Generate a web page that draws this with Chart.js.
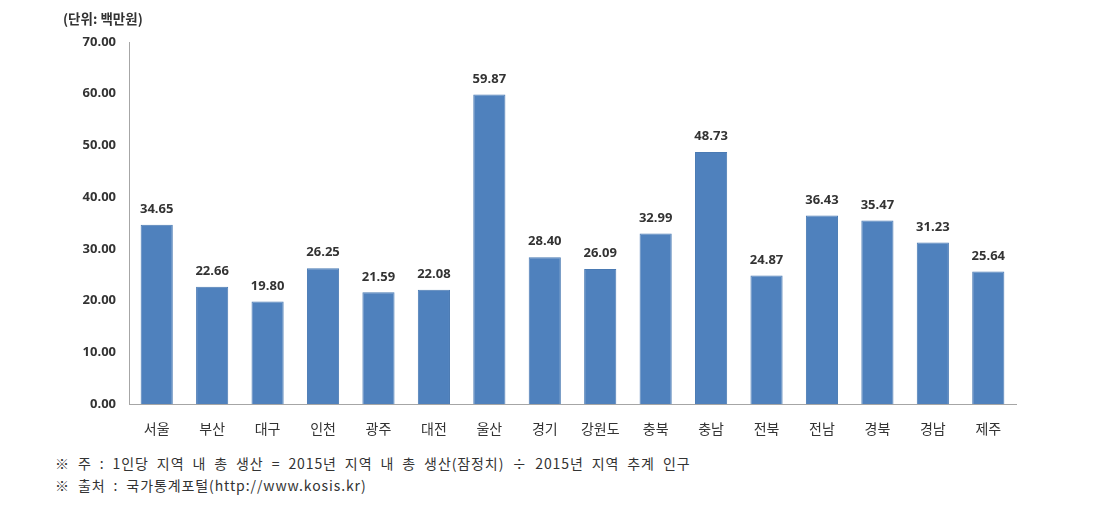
<!DOCTYPE html>
<html>
<head>
<meta charset="utf-8">
<script src="https://cdn.jsdelivr.net/npm/chart.js@4"></script>
<style>
  body { margin: 0; background: #fff; font-family: "Noto Sans CJK KR", "Noto Sans", sans-serif; }
  #wrap { position: relative; width: 1114px; height: 523px; }
  #chart { position: absolute; left: 0; top: 0; }
  .unit { position: absolute; left: 63px; top: 8px; font-size: 13.5px; font-weight: bold; color: #333; }
  .note { position: absolute; left: 55px; font-size: 14px; color: #333; letter-spacing: 0.9px; word-spacing: 4px; }
</style>
</head>
<body>
<div id="wrap">
  <canvas id="chart" width="1114" height="450"></canvas>
  <div class="unit">(단위: 백만원)</div>
  <div class="note" style="top:453px">※ 주 : 1인당 지역 내 총 생산 = 2015년 지역 내 총 생산(잠정치) ÷ 2015년 지역 추계 인구</div>
  <div class="note" style="top:475px">※ 출처 : 국가통계포털(http://www.kosis.kr)</div>
</div>
<script>
// 지역별 1인당 지역 내 총 생산 (2015)
const regions = ['서울', '부산', '대구', '인천', '광주', '대전', '울산', '경기', '강원도', '충북', '충남', '전북', '전남', '경북', '경남', '제주'];
const values = [34.65, 22.66, 19.80, 26.25, 21.59, 22.08, 59.87, 28.40, 26.09, 32.99, 48.73, 24.87, 36.43, 35.47, 31.23, 25.64];
const yTicks = [0, 10, 20, 30, 40, 50, 60, 70];

// 막대 위 값 표시
const valueLabels = {
  id: 'valueLabels',
  afterDatasetsDraw(chart) {
    const ctx = chart.ctx;
    const meta = chart.getDatasetMeta(0);
    ctx.save();
    ctx.font = 'bold 13px "Open Sans", "Noto Sans", sans-serif';
    ctx.fillStyle = '#333';
    ctx.textAlign = 'center';
    ctx.textBaseline = 'bottom';
    meta.data.forEach((bar, i) => {
      ctx.fillText(values[i].toFixed(2), bar.x, bar.y - 9);
    });
    ctx.restore();
  }
};

const ctx = document.getElementById('chart').getContext('2d');
new Chart(ctx, {
  type: 'bar',
  data: {
    labels: regions,
    datasets: [{
      data: values,
      backgroundColor: '#4f81bd',
      borderColor: '#4a7ab3',
      borderWidth: 1,
      barPercentage: 0.58,
      categoryPercentage: 1
    }]
  },
  options: {
    responsive: false,
    animation: false,
    layout: { padding: { left: 0, right: 98, top: 42, bottom: 0 } },
    plugins: { legend: { display: false }, tooltip: { enabled: false } },
    scales: {
      x: {
        grid: { display: false },
        border: { color: '#a6a6a6', width: 1 },
        ticks: { color: '#333', font: { size: 14, family: '"Noto Sans CJK KR", sans-serif' }, padding: 8, maxRotation: 0 },
        afterFit(scale) { scale.height = 46; }
      },
      y: {
        min: 0,
        max: 70,
        grid: { display: false },
        border: { color: '#a6a6a6', width: 1 },
        afterBuildTicks(scale) { scale.ticks = yTicks.map(v => ({ value: v })); },
        ticks: {
          color: '#333',
          padding: 5,
          font: { size: 13, weight: 'bold', family: '"Open Sans", "Noto Sans", sans-serif' },
          callback: v => v.toFixed(2)
        },
        afterFit(scale) { scale.width = 129; }
      }
    }
  },
  plugins: [valueLabels]
});
</script>
</body>
</html>
